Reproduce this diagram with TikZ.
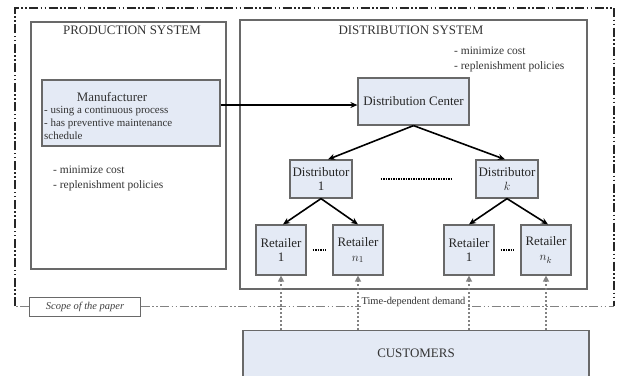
\documentclass[tikz,border=0pt]{standalone}
\usepackage{fontspec}
\setmainfont{Liberation Serif}
\usetikzlibrary{arrows.meta,positioning}
\definecolor{boxblue}{RGB}{228,234,245}
\definecolor{edgegray}{RGB}{105,105,105}
\definecolor{demgray}{RGB}{130,130,130}
\tikzset{
  sysbox/.style  = {draw=edgegray, line width=1.2bp, fill=white},
  box/.style     = {draw=edgegray, line width=1.2bp, fill=boxblue, align=center,
                    inner sep=1pt, font=\fontsize{13}{15}\selectfont, text=black!85},
  title/.style   = {font=\fontsize{13}{15}\selectfont, text=black!80, inner sep=0pt},
  note/.style    = {align=left, inner sep=0pt, font=\fontsize{11.5}{14.5}\selectfont, text=black!80},
  flow/.style    = {-{Stealth[length=7bp,width=6bp]}, line width=1.6bp},
  demand/.style  = {-{Triangle[length=6bp,width=6bp]}, demgray, line width=1.3bp,
                    dash pattern=on 2.5bp off 1.5bp},
  dotline/.style = {line width=1.2bp, dash pattern=on 1.5bp off 1bp},
  scopeline/.style = {line width=1.6bp, dash pattern=on 9bp off 2.5bp on 1.5bp off 2.5bp on 1.5bp off 2.5bp},
}

\begin{document}
\begin{tikzpicture}[x=1bp,y=-1bp]
  \useasboundingbox[fill=white] (0,0) rectangle (618,375);
  % the two systems
  \node[sysbox, minimum width=195bp, minimum height=247bp] (prod) at (128.5,145.5) {};
  \node[sysbox, minimum width=347bp, minimum height=269bp] (dist) at (413.5,154.5) {};
  \node[title] (prodtitle) at (132,30) {PRODUCTION SYSTEM};
  \node[title] (disttitle) at (411,30) {DISTRIBUTION SYSTEM};
  \node[note, anchor=north west] (prodgoal) at (53,166) {- minimize cost\\- replenishment policies};
  \node[note, anchor=north west] (distgoal) at (454,47) {- minimize cost\\- replenishment policies};

  % manufacturer
  \node[box, minimum width=178bp, minimum height=66bp] (manuf) at (131,113) {};
  \node[title] (manuftitle) at (112,96.5) {Manufacturer};
  \node[note, anchor=north west, font=\fontsize{11}{13}\selectfont] (manufnote) at (44,106)
      {- using a continuous process\\- has preventive maintenance\\schedule};

  % distribution network
  \node[box, minimum width=111bp, minimum height=47bp] (dc) at (413.5,101.5) {Distribution Center};
  \node[box, minimum width=62bp, minimum height=38bp] (d1) at (321,179) {Distributor\\1};
  \node[box, minimum width=62bp, minimum height=38bp] (dk) at (507,179) {Distributor\\$k$};
  \node[box, minimum width=50bp, minimum height=50bp] (r11) at (281,250) {Retailer\\1};
  \node[box, minimum width=50bp, minimum height=50bp] (r1n) at (358,250) {Retailer\\$n_1$};
  \node[box, minimum width=50bp, minimum height=50bp] (rk1) at (469,250) {Retailer\\1};
  \node[box, minimum width=50bp, minimum height=50bp] (rkn) at (546,250) {Retailer\\$n_k$};

  \coordinate (flowy) at (0,105);
  \draw[flow] (manuf.east |- flowy) -- (dc.west |- flowy);
  \draw[flow] (dc.south) -- ([xshift=7bp]d1.north);
  \draw[flow] (dc.south) -- ([xshift=-2bp]dk.north);
  \draw[flow] (d1.south) -- ([xshift=2bp]r11.north);
  \draw[flow] (d1.south) -- (r1n.north);
  \draw[flow] (dk.south) -- (rk1.north);
  \draw[flow] (dk.south) -- ([xshift=2bp]rkn.north);
  \draw[dotline, shorten <=28bp, shorten >=24bp] (d1) -- (dk);
  \draw[dotline, shorten <=6bp, shorten >=6bp] (r11) -- (r1n);
  \draw[dotline, shorten <=6bp, shorten >=6bp] (rk1) -- (rkn);

  % customers and demand
  \node[box, minimum width=346bp, minimum height=48bp, anchor=north] (cust) at (416,330) {};
  \node[title] (custtitle) at (416,353) {CUSTOMERS};
  \foreach \r in {r11,r1n,rk1,rkn}
    \draw[demand] (cust.north -| \r) -- (\r.south);

  % scope of the paper
  \node[draw=edgegray, line width=1bp, minimum width=110bp, minimum height=19bp,
        font=\fontsize{10.5}{12}\selectfont\itshape, text=black!75] (scope) at (85,306.5) {Scope of the paper};
  \draw[scopeline, black!85] (15,306) -- (15,8) -- (614,8) -- (614,306);
  \draw[scopeline, demgray] (scope.west) -- (15,306.5);
  \draw[scopeline, demgray] (scope.east) -- (614,306.5);
  \node[fill=white, inner sep=1bp, font=\fontsize{10.5}{12}\selectfont, text=black!80] (demandtext)
      at (413.5,302) {Time-dependent demand};
\end{tikzpicture}
\end{document}
